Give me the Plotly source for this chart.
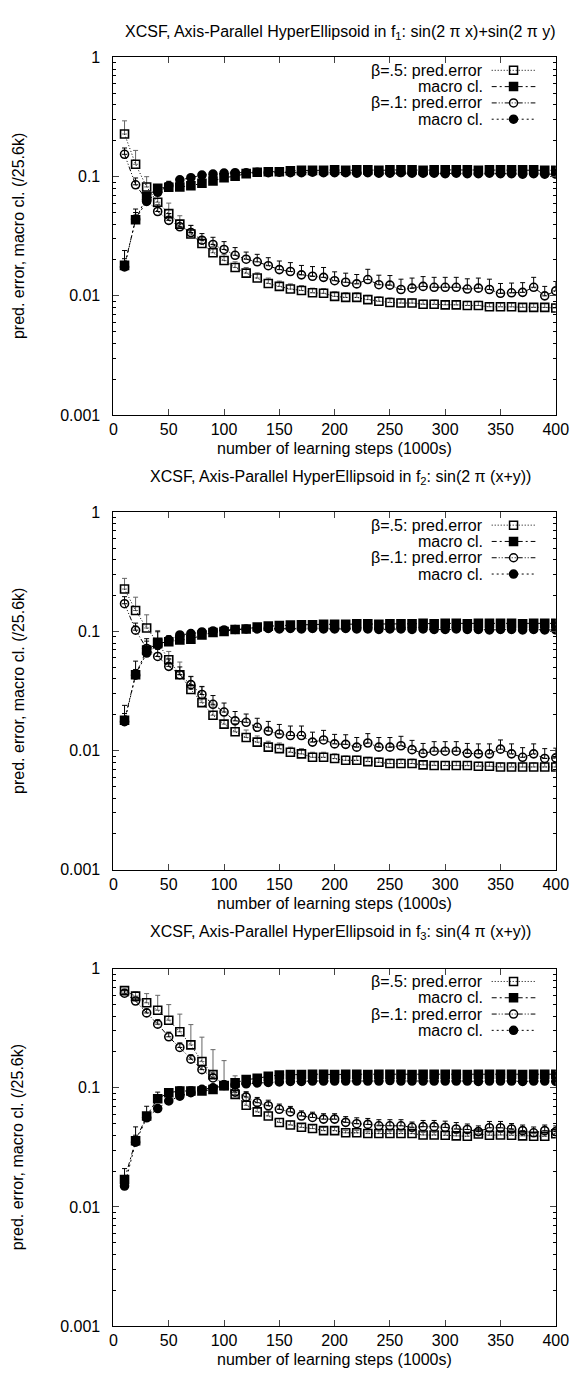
import plotly.graph_objects as go

# ---------------- data ----------------
steps = [10, 20, 30, 40, 50, 60, 70, 80, 90, 100, 110, 120, 130, 140, 150, 160, 170, 180, 190, 200,
         210, 220, 230, 240, 250, 260, 270, 280, 290, 300, 310, 320, 330, 340, 350, 360, 370, 380, 390, 400]

x_ticks = [0, 50, 100, 150, 200, 250, 300, 350, 400]
y_ticks = [0.001, 0.01, 0.1, 1]
y_ticktext = ["0.001", "0.01", "0.1", "1"]
y_minor = [0.002, 0.003, 0.004, 0.005, 0.006, 0.007, 0.008, 0.009,
           0.02, 0.03, 0.04, 0.05, 0.06, 0.07, 0.08, 0.09,
           0.2, 0.3, 0.4, 0.5, 0.6, 0.7, 0.8, 0.9]

titles = ["XCSF, Axis-Parallel HyperEllipsoid in f<sub>1</sub>: sin(2 \u03c0 x)+sin(2 \u03c0 y)",
          "XCSF, Axis-Parallel HyperEllipsoid in f<sub>2</sub>: sin(2 \u03c0 (x+y))",
          "XCSF, Axis-Parallel HyperEllipsoid in f<sub>3</sub>: sin(4 \u03c0 (x+y))"]
series_names = ["\u03b2=.5: pred.error", "macro cl.", "\u03b2=.1: pred.error", "macro cl."]
x_title = "number of learning steps (1000s)"
y_title = "pred. error, macro cl. (/25.6k)"

# panel 1 (f1)
f1_pe_b5 = [0.228, 0.127, 0.082, 0.061, 0.049, 0.040, 0.033, 0.0275, 0.023, 0.0198,
            0.0173, 0.0155, 0.0141, 0.0127, 0.0120, 0.0114, 0.0111, 0.0106, 0.0105, 0.0099,
            0.0097, 0.0097, 0.0093, 0.0090, 0.0088, 0.0087, 0.0087, 0.0085, 0.0085, 0.0084,
            0.0084, 0.0083, 0.0083, 0.0081, 0.0081, 0.0081, 0.0080, 0.0080, 0.0080, 0.0079]
f1_mc_b5 = [0.018, 0.0435, 0.068, 0.080, 0.0815, 0.082, 0.084, 0.088, 0.092, 0.098,
            0.101, 0.106, 0.109, 0.110, 0.110, 0.112, 0.113, 0.113, 0.113, 0.114,
            0.113, 0.114, 0.114, 0.113, 0.114, 0.114, 0.114, 0.113, 0.114, 0.114,
            0.114, 0.114, 0.113, 0.114, 0.114, 0.114, 0.114, 0.114, 0.113, 0.113]
f1_pe_b1 = [0.154, 0.0855, 0.064, 0.051, 0.043, 0.038, 0.034, 0.0293, 0.027, 0.0245,
            0.0219, 0.0203, 0.0193, 0.0179, 0.0166, 0.0160, 0.0150, 0.0146, 0.0143, 0.0134,
            0.0130, 0.0126, 0.0137, 0.0124, 0.0123, 0.0113, 0.0116, 0.0120, 0.0118, 0.0118,
            0.0118, 0.0114, 0.0116, 0.0113, 0.0105, 0.0106, 0.0107, 0.0118, 0.0100, 0.0110]
f1_mc_b1 = [0.0175, 0.044, 0.062, 0.074, 0.084, 0.094, 0.098, 0.103, 0.105, 0.107,
            0.108, 0.108, 0.109, 0.108, 0.109, 0.108, 0.108, 0.109, 0.108, 0.108,
            0.108, 0.107, 0.108, 0.107, 0.107, 0.108, 0.107, 0.107, 0.107, 0.106,
            0.107, 0.106, 0.106, 0.107, 0.106, 0.106, 0.105, 0.106, 0.105, 0.105]
f1_pe_b5_err = [0.066, 0.039, 0.018, 0.011, 0.011, 0.007, 0.006, 0.0035, 0.003, 0.0025,
                0.002, 0.0018, 0.0015, 0.0014, 0.0013, 0.0012, 0.0011, 0.001, 0.001, 0.0009,
                0.0009, 0.0009, 0.0008, 0.0008, 0.0008, 0.0007, 0.0007, 0.0007, 0.0007, 0.0007,
                0.0007, 0.0007, 0.0007, 0.0006, 0.0006, 0.0006, 0.0006, 0.0006, 0.0006, 0.0006]
f1_mc_b5_err = [0.006, 0.010, 0.006, 0.004, 0.010, 0.004, 0.003, 0.003, 0.003, 0.003,
                0.002, 0.002, 0.002, 0.002, 0.002, 0.002, 0.002, 0.002, 0.002, 0.002,
                0.002, 0.002, 0.002, 0.002, 0.002, 0.002, 0.002, 0.002, 0.002, 0.002,
                0.002, 0.002, 0.002, 0.002, 0.002, 0.002, 0.002, 0.002, 0.002, 0.002]
f1_pe_b1_err = [0.02, 0.012, 0.009, 0.007, 0.006, 0.005, 0.005, 0.004, 0.004, 0.004,
                0.0035, 0.003, 0.003, 0.003, 0.003, 0.003, 0.003, 0.003, 0.003, 0.0025,
                0.0025, 0.0025, 0.003, 0.0025, 0.0025, 0.0025, 0.0025, 0.0025, 0.0025, 0.0025,
                0.0025, 0.0025, 0.0025, 0.0025, 0.0022, 0.0022, 0.0022, 0.0025, 0.002, 0.0022]
f1_mc_b1_err = [0.003, 0.006, 0.004, 0.003, 0.003, 0.003, 0.002, 0.002, 0.002, 0.002,
                0.002, 0.002, 0.002, 0.002, 0.002, 0.002, 0.002, 0.002, 0.002, 0.002,
                0.002, 0.002, 0.002, 0.002, 0.002, 0.002, 0.002, 0.002, 0.002, 0.002,
                0.002, 0.002, 0.002, 0.002, 0.002, 0.002, 0.002, 0.002, 0.002, 0.002]

# panel 2 (f2)
f2_pe_b5 = [0.227, 0.150, 0.107, 0.081, 0.058, 0.0434, 0.0326, 0.0253, 0.0198, 0.0167,
            0.0144, 0.0129, 0.0118, 0.0107, 0.0104, 0.0097, 0.0094, 0.0088, 0.0088, 0.0086,
            0.0083, 0.0083, 0.0081, 0.0080, 0.0078, 0.0078, 0.0078, 0.0076, 0.0075, 0.0075,
            0.0075, 0.0075, 0.0074, 0.0074, 0.0073, 0.0073, 0.0073, 0.0073, 0.0073, 0.0073]
f2_mc_b5 = [0.018, 0.0434, 0.070, 0.0795, 0.082, 0.085, 0.086, 0.0935, 0.098, 0.100,
            0.104, 0.105, 0.109, 0.111, 0.112, 0.113, 0.114, 0.114, 0.115, 0.115,
            0.115, 0.116, 0.116, 0.115, 0.116, 0.116, 0.116, 0.117, 0.116, 0.117,
            0.117, 0.116, 0.117, 0.117, 0.117, 0.117, 0.116, 0.117, 0.117, 0.117]
f2_pe_b1 = [0.171, 0.1026, 0.072, 0.0617, 0.051, 0.0434, 0.0358, 0.0296, 0.0245, 0.0211,
            0.0178, 0.0173, 0.0157, 0.0146, 0.0138, 0.0134, 0.0134, 0.0118, 0.0123, 0.0114,
            0.0113, 0.0107, 0.0116, 0.0107, 0.0107, 0.0110, 0.0102, 0.0095, 0.0099, 0.0099,
            0.0099, 0.0095, 0.0094, 0.0094, 0.0103, 0.0094, 0.0088, 0.0094, 0.0086, 0.0087]
f2_mc_b1 = [0.0175, 0.043, 0.066, 0.077, 0.085, 0.0935, 0.096, 0.099, 0.101, 0.103,
            0.104, 0.105, 0.105, 0.106, 0.105, 0.106, 0.105, 0.106, 0.105, 0.105,
            0.106, 0.105, 0.105, 0.104, 0.105, 0.105, 0.104, 0.105, 0.104, 0.104,
            0.105, 0.104, 0.104, 0.103, 0.104, 0.104, 0.103, 0.104, 0.103, 0.103]
f2_pe_b5_err = [0.052, 0.044, 0.031, 0.021, 0.010, 0.012, 0.0095, 0.009, 0.004, 0.003,
                0.0025, 0.002, 0.0015, 0.0013, 0.0012, 0.001, 0.001, 0.0009, 0.0009, 0.0008,
                0.0007, 0.0007, 0.0007, 0.0007, 0.0007, 0.0007, 0.0007, 0.0006, 0.0006, 0.0006,
                0.0006, 0.0006, 0.0006, 0.0006, 0.0006, 0.0006, 0.0006, 0.0006, 0.0006, 0.0006]
f2_mc_b5_err = [0.006, 0.013, 0.017, 0.020, 0.010, 0.005, 0.005, 0.004, 0.004, 0.004,
                0.003, 0.003, 0.003, 0.003, 0.003, 0.003, 0.003, 0.003, 0.003, 0.003,
                0.003, 0.003, 0.003, 0.003, 0.003, 0.003, 0.003, 0.003, 0.003, 0.003,
                0.003, 0.003, 0.003, 0.003, 0.003, 0.003, 0.003, 0.003, 0.003, 0.003]
f2_pe_b1_err = [0.025, 0.015, 0.011, 0.009, 0.008, 0.007, 0.006, 0.005, 0.0045, 0.004,
                0.0035, 0.003, 0.003, 0.003, 0.0028, 0.0027, 0.0027, 0.0025, 0.0025, 0.0023,
                0.0023, 0.0022, 0.0023, 0.0022, 0.0022, 0.0022, 0.002, 0.002, 0.002, 0.002,
                0.002, 0.002, 0.002, 0.002, 0.002, 0.002, 0.0018, 0.002, 0.0018, 0.0018]
f2_mc_b1_err = [0.003, 0.005, 0.004, 0.003, 0.002, 0.002, 0.002, 0.002, 0.002, 0.002,
                0.002, 0.002, 0.002, 0.002, 0.002, 0.002, 0.002, 0.002, 0.002, 0.002,
                0.002, 0.002, 0.002, 0.002, 0.002, 0.002, 0.002, 0.002, 0.002, 0.002,
                0.002, 0.002, 0.002, 0.002, 0.002, 0.002, 0.002, 0.002, 0.002, 0.002]

# panel 3 (f3)
f3_pe_b5 = [0.654, 0.588, 0.517, 0.447, 0.369, 0.295, 0.229, 0.166, 0.129, 0.104,
            0.088, 0.0713, 0.0628, 0.058, 0.0512, 0.0487, 0.0466, 0.0455, 0.0437, 0.0437,
            0.0419, 0.0419, 0.0413, 0.0413, 0.0413, 0.0413, 0.0413, 0.0402, 0.0402, 0.0400,
            0.0395, 0.0392, 0.0410, 0.0400, 0.0402, 0.0400, 0.0395, 0.0392, 0.0392, 0.0412]
f3_mc_b5 = [0.017, 0.036, 0.058, 0.081, 0.091, 0.094, 0.094, 0.094, 0.0968, 0.1045,
            0.110, 0.117, 0.120, 0.125, 0.128, 0.129, 0.129, 0.130, 0.130, 0.129,
            0.130, 0.130, 0.129, 0.130, 0.130, 0.130, 0.129, 0.130, 0.130, 0.130,
            0.130, 0.129, 0.130, 0.130, 0.130, 0.130, 0.129, 0.130, 0.130, 0.130]
f3_pe_b1 = [0.622, 0.535, 0.425, 0.342, 0.268, 0.218, 0.174, 0.142, 0.121, 0.105,
            0.092, 0.0837, 0.075, 0.0707, 0.066, 0.0628, 0.058, 0.0564, 0.0546, 0.0546,
            0.0513, 0.050, 0.0493, 0.048, 0.048, 0.048, 0.0466, 0.0472, 0.0472, 0.0465,
            0.0451, 0.0447, 0.0429, 0.0462, 0.0462, 0.0451, 0.0437, 0.0419, 0.0437, 0.0429]
f3_mc_b1 = [0.015, 0.035, 0.056, 0.067, 0.0776, 0.085, 0.091, 0.097, 0.100, 0.1045,
            0.106, 0.108, 0.110, 0.111, 0.112, 0.113, 0.113, 0.114, 0.114, 0.114,
            0.114, 0.114, 0.114, 0.114, 0.115, 0.114, 0.114, 0.114, 0.114, 0.114,
            0.114, 0.114, 0.113, 0.114, 0.114, 0.114, 0.113, 0.114, 0.114, 0.113]
f3_pe_b5_err = [0.02, 0.05, 0.10, 0.15, 0.13, 0.12, 0.11, 0.10, 0.08, 0.065,
                0.038, 0.02, 0.008, 0.006, 0.004, 0.004, 0.003, 0.003, 0.003, 0.003,
                0.002, 0.002, 0.002, 0.002, 0.002, 0.002, 0.002, 0.002, 0.002, 0.002,
                0.002, 0.002, 0.002, 0.002, 0.002, 0.002, 0.002, 0.002, 0.002, 0.002]
f3_mc_b5_err = [0.004, 0.011, 0.012, 0.011, 0.006, 0.008, 0.008, 0.008, 0.006, 0.005,
                0.004, 0.004, 0.004, 0.004, 0.004, 0.004, 0.004, 0.004, 0.004, 0.004,
                0.004, 0.004, 0.004, 0.004, 0.004, 0.004, 0.004, 0.004, 0.004, 0.004,
                0.004, 0.004, 0.004, 0.004, 0.004, 0.004, 0.004, 0.004, 0.004, 0.004]
f3_pe_b1_err = [0.03, 0.03, 0.03, 0.03, 0.025, 0.02, 0.015, 0.012, 0.012, 0.010,
                0.009, 0.009, 0.008, 0.008, 0.007, 0.007, 0.006, 0.006, 0.006, 0.006,
                0.006, 0.006, 0.006, 0.006, 0.006, 0.006, 0.005, 0.006, 0.006, 0.006,
                0.006, 0.005, 0.005, 0.006, 0.006, 0.005, 0.005, 0.005, 0.005, 0.005]
f3_mc_b1_err = [0.003, 0.005, 0.005, 0.004, 0.004, 0.003, 0.003, 0.003, 0.003, 0.003,
                0.003, 0.003, 0.003, 0.003, 0.003, 0.003, 0.003, 0.003, 0.003, 0.003,
                0.003, 0.003, 0.003, 0.003, 0.003, 0.003, 0.003, 0.003, 0.003, 0.003,
                0.003, 0.003, 0.003, 0.003, 0.003, 0.003, 0.003, 0.003, 0.003, 0.003]

panels = [
    [(f1_pe_b5, f1_pe_b5_err), (f1_mc_b5, f1_mc_b5_err), (f1_pe_b1, f1_pe_b1_err), (f1_mc_b1, f1_mc_b1_err)],
    [(f2_pe_b5, f2_pe_b5_err), (f2_mc_b5, f2_mc_b5_err), (f2_pe_b1, f2_pe_b1_err), (f2_mc_b1, f2_mc_b1_err)],
    [(f3_pe_b5, f3_pe_b5_err), (f3_mc_b5, f3_mc_b5_err), (f3_pe_b1, f3_pe_b1_err), (f3_mc_b1, f3_mc_b1_err)],
]

# ---------------- styles / layout ----------------
W, H = 587, 1380
FONT = "Liberation Sans, Arial, Helvetica, sans-serif"
FS = 16
X_LEFT, X_RIGHT = 104.5, 560.0
TOPS = [42.0, 502.5, 964.5]
BOTTOMS = [404.0, 864.5, 1326.5]
TITLE_Y = [17, 467, 928]

dashes = ["1px,2px", "5px,3px,2px,3px", "5px,2px,1px,2px,1px,2px", "2px,3px"]
symbols = ["square-open", "square", "circle-open", "circle"]
msizes = [8, 8, 8, 8]
err_colors = ["#666666", "black", "black", "black"]


def px(xp):
    return xp / W


def py(yp):
    return 1 - yp / H


fig = go.Figure()

for p, series in enumerate(panels):
    xa = "x" if p == 0 else f"x{p + 1}"
    ya = "y" if p == 0 else f"y{p + 1}"
    for s, (vals, err) in enumerate(series):
        fig.add_trace(go.Scatter(
            x=steps, y=vals, xaxis=xa, yaxis=ya, mode="lines+markers",
            name=series_names[s], showlegend=False,
            line=dict(color="black", width=1, dash=dashes[s]),
            marker=dict(symbol=symbols[s], size=msizes[s], color="black",
                        line=dict(color="black", width=1.6)),
            error_y=dict(type="data", symmetric=False, array=err,
                         arrayminus=[0] * len(err), color=err_colors[s],
                         thickness=1, width=2.5),
            cliponaxis=True,
        ))

layout = dict(
    width=W, height=H, margin=dict(l=0, r=0, t=0, b=0),
    paper_bgcolor="white", plot_bgcolor="white",
    font=dict(family=FONT, size=FS, color="black"),
    showlegend=False,
)
annotations = []
shapes = []
for p in range(3):
    sfx = "" if p == 0 else str(p + 1)
    layout["xaxis" + sfx] = dict(
        domain=[px(X_LEFT), px(X_RIGHT)], anchor="y" + sfx, range=[0, 400],
        tickmode="array", tickvals=x_ticks, ticks="inside", ticklen=6,
        showline=True, linecolor="black", linewidth=1, mirror="ticks",
        showgrid=False, zeroline=False, tickfont=dict(size=FS, family=FONT),
        ticklabelstandoff=0,
    )
    layout["yaxis" + sfx] = dict(
        domain=[py(BOTTOMS[p]), py(TOPS[p])], anchor="x" + sfx, type="log",
        range=[-3, 0], tickmode="array", tickvals=y_ticks, ticktext=y_ticktext,
        ticks="inside", ticklen=6, showline=True, linecolor="black", linewidth=1,
        mirror="ticks", showgrid=False, zeroline=False,
        tickfont=dict(size=FS, family=FONT), ticklabelstandoff=9,
        minor=dict(tickmode="array", tickvals=y_minor, ticks="inside", ticklen=3,
                   tickcolor="black", showgrid=False),
    )
    # panel title
    annotations.append(dict(text=titles[p], x=px(338), y=py(TITLE_Y[p]),
                            xref="paper", yref="paper", showarrow=False,
                            xanchor="center", yanchor="middle", font=dict(size=FS)))
    # axis titles
    annotations.append(dict(text=x_title, x=px((X_LEFT + X_RIGHT) / 2), y=py(BOTTOMS[p] + 34),
                            xref="paper", yref="paper", showarrow=False,
                            xanchor="center", yanchor="middle", font=dict(size=FS)))
    annotations.append(dict(text=y_title, x=px(6), y=py((TOPS[p] + BOTTOMS[p]) / 2),
                            xref="paper", yref="paper", showarrow=False, textangle=-90,
                            xanchor="center", yanchor="middle", font=dict(size=FS)))
    # key (legend) drawn in gnuplot style: text, then line sample with marker
    for s in range(4):
        ry = TOPS[p] + 13 + 16.5 * s
        annotations.append(dict(text=series_names[s], x=px(487), y=py(ry), xref="paper",
                                yref="paper", showarrow=False, xanchor="right",
                                yanchor="middle", font=dict(size=FS)))
        shapes.append(dict(type="line", xref="paper", yref="paper",
                           x0=px(494), x1=px(539), y0=py(ry), y1=py(ry),
                           line=dict(color="black", width=1, dash=dashes[s])))
        filled = s in (1, 3)
        shapes.append(dict(type="rect" if s < 2 else "circle", xref="paper", yref="paper",
                           xsizemode="pixel", ysizemode="pixel",
                           xanchor=px(516.5), yanchor=py(ry),
                           x0=-4, x1=4, y0=-4, y1=4,
                           fillcolor="black" if filled else "rgba(0,0,0,0)",
                           line=dict(color="black", width=1.5)))

layout["annotations"] = annotations
layout["shapes"] = shapes
fig.update_layout(**layout)

fig.write_html("out.html")
